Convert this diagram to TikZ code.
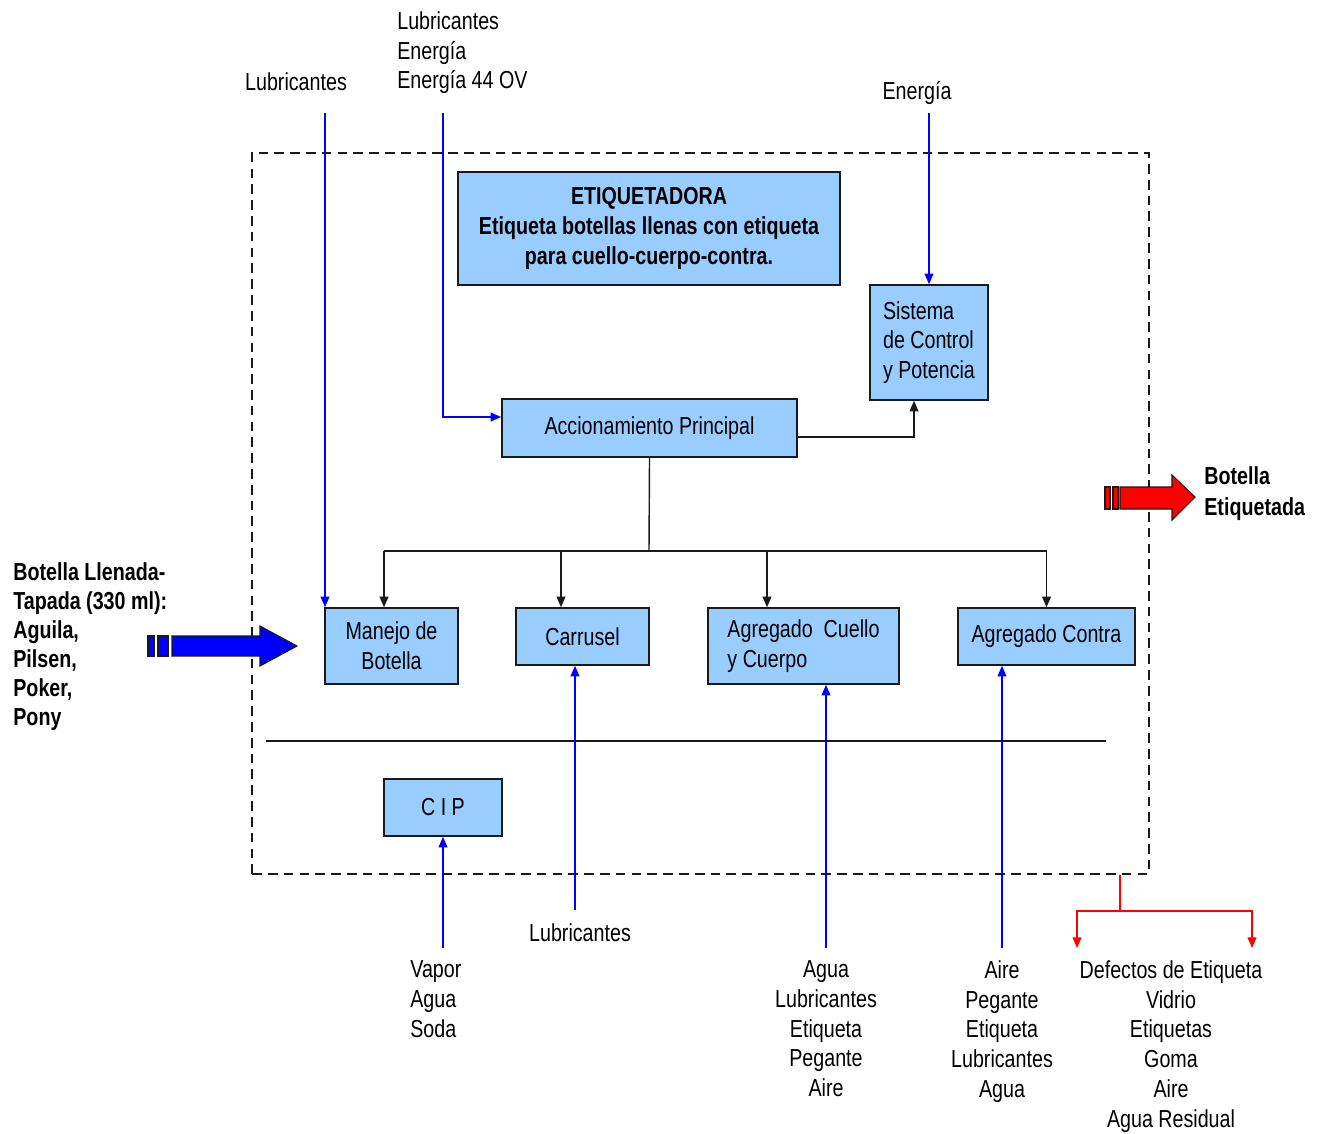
\documentclass[tikz,border=0pt]{standalone}
\usepackage{fontspec}
\setmainfont{Liberation Sans}[FakeStretch=0.80]
\usepackage{xcolor}
\usepackage{tikz}
\usetikzlibrary{arrows.meta, positioning}
\definecolor{boxblue}{HTML}{99CCFF}
\definecolor{edge}{HTML}{1A1A1A}

\begin{document}
\begin{tikzpicture}[x=0.02cm, y=-0.02cm,
  every node/.style={font=\fontsize{14}{17}\selectfont, inner sep=0pt},
  box/.style={draw=edge, line width=0.9pt, fill=boxblue},
  frame/.style={draw=edge, line width=1.1pt, dash pattern=on 5.5pt off 3.5pt},
  link/.style={draw=edge, line width=0.8pt, -{Triangle[length=6pt,width=5pt]}},
  feed/.style={blue, line width=0.7pt, -{Triangle[length=6pt,width=5pt]}},
  waste/.style={red, line width=0.7pt, -{Triangle[length=6pt,width=5pt]}}]
\useasboundingbox (0,0) rectangle (1324,1133);
% Machine boundary (dashed)
\node[frame, minimum width=17.94cm, minimum height=14.42cm] (frame) at (700.5,513.5) {};
% Title box
\node[box, minimum width=7.64cm, minimum height=2.26cm, align=center,
  font=\bfseries\fontsize{14}{17}\selectfont] (titulo) at (649,228.5)
  {ETIQUETADORA\\Etiqueta botellas llenas con etiqueta\\para cuello-cuerpo-contra.};
% Units
\node[box, minimum width=2.36cm, minimum height=2.30cm, align=left] (sistema) at (929,342.5)
  {Sistema\\de Control\\y Potencia};
\node[box, minimum width=5.90cm, minimum height=1.16cm] (accion) at (649.5,428) {Accionamiento Principal};
\node[box, minimum width=2.66cm, minimum height=1.52cm, align=center] (manejo) at (391.5,646) {Manejo de\\Botella};
\node[box, minimum width=2.66cm, minimum height=1.14cm] (carrusel) at (582.5,636.5) {Carrusel};
\node[box, minimum width=3.82cm, minimum height=1.52cm, align=left] (cuello) at (803.5,646)
  {Agregado\ \ Cuello\\y Cuerpo};
\node[box, minimum width=3.54cm, minimum height=1.14cm] (contra) at (1046.5,636.5) {Agregado Contra};
\node[box, minimum width=2.36cm, minimum height=1.14cm] (cip) at (443,807.5) {C I P};
% Separator
\draw[edge, line width=0.9pt] (266,741) -- (1106,741);
% Drive distribution
\coordinate (bus) at (649,551);
\coordinate (mtop) at ([xshift=-0.15cm]manejo.north);
\coordinate (rtop) at ([xshift=-0.43cm]carrusel.north);
\coordinate (ktop) at ([xshift=-0.73cm]cuello.north);
\coordinate (ctop) at (contra.north);
\draw[edge, line width=0.8pt] (accion.south) -- (bus);
\draw[edge, line width=0.8pt] (mtop |- bus) -- (ctop |- bus);
\foreach \t in {mtop, rtop, ktop, ctop}
  \draw[link] (\t |- bus) -- (\t);
\draw[link] ([yshift=-0.18cm]accion.east) -| ([xshift=-0.3cm]sistema.south);
% Inputs (top)
\node[anchor=north] (lubA) at (296,72) {Lubricantes};
\node[anchor=north west, align=left] (lubB) at (397,11) {Lubricantes\\Energía\\Energía 44 OV};
\node[anchor=north] (ener) at (917,81) {Energía};
\coordinate (lubAin) at (325,113);
\coordinate (lubBin) at (443,113);
\coordinate (enerin) at (929,113);
\draw[feed] (lubAin) -- (lubAin |- manejo.north);
\draw[feed] (lubBin) |- ([yshift=0.22cm]accion.west);
\draw[feed] (enerin) -- (sistema.north);
% Inputs (bottom)
\node[anchor=north west, align=left] (vapor) at (410,960) {Vapor\\Agua\\Soda};
\node[anchor=north] (lubC) at (580,923) {Lubricantes};
\node[anchor=north, align=center] (aguaA) at (826,960) {Agua\\Lubricantes\\Etiqueta\\Pegante\\Aire};
\node[anchor=north, align=center] (aireA) at (1002,960) {Aire\\Pegante\\Etiqueta\\Lubricantes\\Agua};
\coordinate (cipin) at (443,948);
\coordinate (carin) at (575,910);
\coordinate (cuein) at (826,948);
\coordinate (conin) at (1002,948);
\draw[feed] (cipin) -- (cip.south);
\draw[feed] (carin) -- (carin |- carrusel.south);
\draw[feed] (cuein) -- (cuein |- cuello.south);
\draw[feed] (conin) -- (conin |- contra.south);
% Waste outputs
\node[anchor=north, align=center] (defectos) at (1171,960)
  {Defectos de Etiqueta\\Vidrio\\Etiquetas\\Goma\\Aire\\Agua Residual};
\coordinate (rojo) at (1120,911);
\coordinate (defA) at (1077,948);
\coordinate (defB) at (1252,948);
\draw[red, line width=0.7pt] (rojo |- frame.south) -- (rojo);
\draw[waste] (rojo) -| (defA);
\draw[waste] (rojo) -| (defB);
% Bottle in (blue block arrow)
\node[anchor=north west, align=left, font=\bfseries\fontsize{14}{16.5}\selectfont] (entrada) at (13,562)
  {Botella Llenada-\\Tapada (330 ml):\\Aguila,\\Pilsen,\\Poker,\\Pony};
\filldraw[fill=blue, draw=edge, line width=0.6pt] (148,636) rectangle (154,656);
\filldraw[fill=blue, draw=edge, line width=0.6pt] (158,636) rectangle (168,656);
\filldraw[fill=blue, draw=edge, line width=0.6pt]
  (172,636) -- (260,636) -- (260,626) -- (297,646) -- (260,666) -- (260,656) -- (172,656) -- cycle;
% Bottle out (red block arrow)
\node[anchor=north west, align=left, font=\bfseries\fontsize{14}{18}\selectfont] (salida) at (1204,466)
  {Botella\\Etiquetada};
\filldraw[fill=red, draw=edge, line width=0.6pt] (1105,487) rectangle (1110,509);
\filldraw[fill=red, draw=edge, line width=0.6pt] (1113,487) rectangle (1118,509);
\filldraw[fill=red, draw=edge, line width=0.6pt]
  (1120,487) -- (1172,487) -- (1172,475) -- (1195,497) -- (1172,520) -- (1172,509) -- (1120,509) -- cycle;
\end{tikzpicture}
\end{document}
